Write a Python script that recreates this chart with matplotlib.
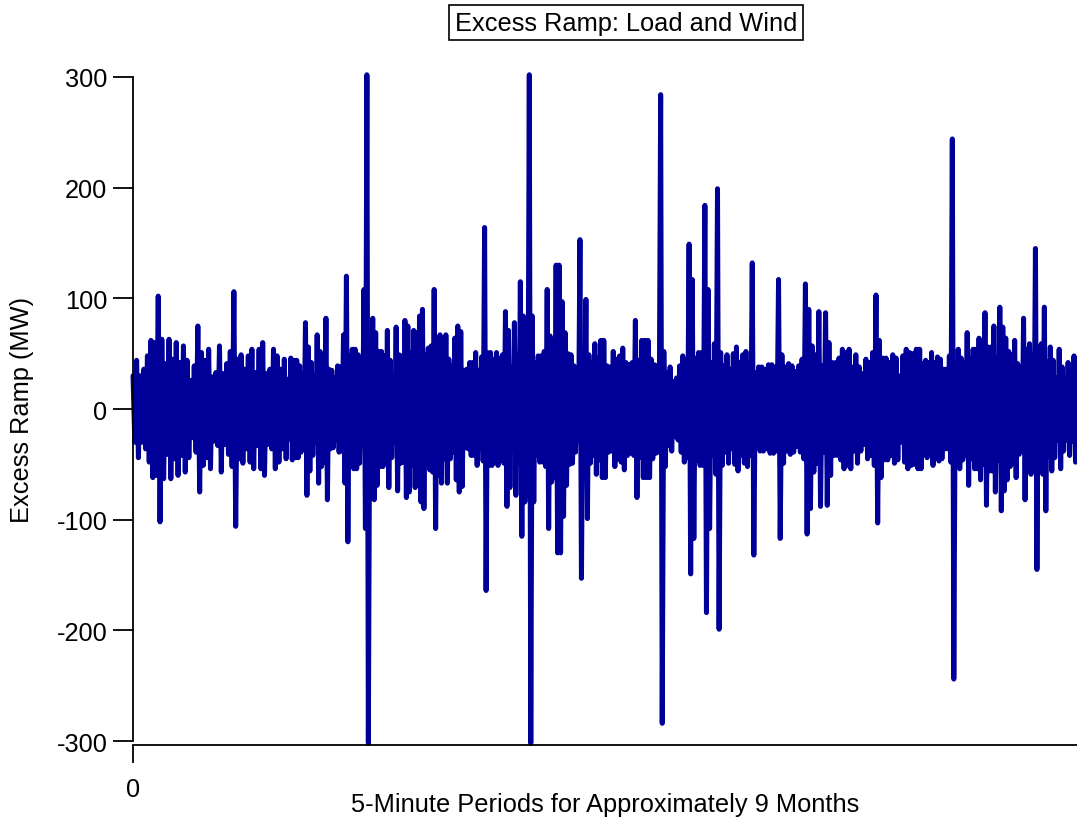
import matplotlib
matplotlib.use("Agg")
import matplotlib.pyplot as plt
import numpy as np

plt.rcParams["font.family"] = ["Liberation Sans", "DejaVu Sans"]
plt.rcParams["axes.unicode_minus"] = False

# Excess ramp envelope (MW) read along the record, six consecutive blocks.
# Each value is a swing: the ramp goes up to +value and straight back down.
block1_mw = [30, 44, 30, 36, 48, 62, 60, 102, 63, 41, 63, 45, 60, 42, 57, 44,
             26, 39, 75, 51, 44, 54, 29, 33, 57, 32, 41, 52, 106, 45, 49, 36,
             48, 54, 33, 54, 60, 32, 36, 54, 48, 36, 45]
block2_mw = [27, 46, 44, 44, 39, 32, 78, 56, 42, 30, 67, 52, 48, 82, 36, 35,
             28, 39, 38, 67, 120, 48, 54, 54, 49, 33, 108, 302, 39, 82, 69,
             52, 52, 48, 71, 44, 30, 74, 49, 48, 80, 75, 51, 71, 69, 84, 90,
             49, 55, 57, 108, 60, 67, 45]
block3_mw = [67, 45, 39, 64, 75, 70, 35, 36, 42, 42, 51, 35, 47, 164, 51, 51,
             45, 51, 46, 49, 88, 71, 38, 78, 49, 115, 84, 78, 302, 84, 42, 48,
             48, 52, 108, 66, 62, 130, 130, 97, 69, 50, 49, 39, 28, 153, 42,
             99, 49, 42, 59, 46, 62]
block4_mw = [62, 39, 38, 52, 45, 48, 55, 42, 40, 42, 80, 44, 62, 62, 62, 45,
             40, 39, 284, 52, 33, 38, 25, 28, 39, 48, 44, 149, 117, 46, 51,
             51, 184, 108, 42, 59, 199, 51, 39, 49, 36, 50, 56, 42, 49, 52,
             42, 132, 33, 38]
block5_mw = [38, 36, 40, 40, 38, 117, 49, 38, 41, 39, 34, 39, 45, 113, 90,
             57, 49, 88, 39, 87, 60, 42, 42, 46, 54, 51, 54, 38, 49, 38, 32,
             45, 42, 51, 103, 62, 46, 46, 42, 49, 46, 30, 48, 54, 51, 50, 54]
block6_mw = [54, 41, 44, 42, 51, 42, 47, 45, 36, 36, 48, 244, 32, 54, 46, 42,
             69, 45, 54, 54, 64, 50, 87, 56, 56, 75, 46, 92, 74, 64, 52, 49,
             62, 41, 38, 82, 54, 59, 49, 145, 56, 59, 92, 43, 56, 44, 28, 54,
             38, 28, 42, 29, 48]

# 5-minute period index at the block boundaries
block_edges = [0, 12800, 25850, 38900, 51950, 65000, 78000]

y_ticks = [-300, -200, -100, 0, 100, 200, 300]
x_ticks = [0]

blocks = [block1_mw, block2_mw, block3_mw, block4_mw, block5_mw, block6_mw]

periods = []
ramp = []
for (start, stop), amps in zip(zip(block_edges[:-1], block_edges[1:]), blocks):
    step = (stop - start) / len(amps)
    for k, a in enumerate(amps):
        x0 = start + k * step
        periods += [x0, x0 + step / 2]
        ramp += [a, -a]
periods = np.array(periods)
ramp = np.array(ramp)

fig = plt.figure(figsize=(10.77, 8.2), dpi=100)
ax = fig.add_axes([0.1235, 0.0951, 0.8765, 0.8098])

ax.plot(periods, ramp, color="#000099", linewidth=3.6,
        solid_joinstyle="round", solid_capstyle="round", clip_on=False)

ax.set_xlim(block_edges[0], block_edges[-1])
ax.set_ylim(-300, 300)
ax.set_yticks(y_ticks)
ax.set_xticks(x_ticks)

for side in ("top", "right"):
    ax.spines[side].set_visible(False)
ax.spines["bottom"].set_position(("outward", 3))
ax.spines["left"].set_linewidth(1.3)
ax.spines["bottom"].set_linewidth(1.3)

ax.tick_params(axis="y", length=14.5, width=1.3, pad=4, labelsize=18.3)
ax.tick_params(axis="x", length=13, width=1.3, pad=10, labelsize=18.3)

ax.set_ylabel("Excess Ramp (MW)", fontsize=18.3, va="center")
ax.yaxis.set_label_coords(-0.1176, 0.5)
ax.set_xlabel("5-Minute Periods for Approximately 9 Months", fontsize=18.3,
              va="center")
ax.xaxis.set_label_coords(0.5, -0.095)

fig.text(0.5813, 0.971, "Excess Ramp: Load and Wind", fontsize=18.3,
         ha="center", va="center",
         bbox=dict(boxstyle="square,pad=0.22", facecolor="white",
                   edgecolor="black", linewidth=1.2))

fig.savefig("out.png", dpi=100)
plt.close(fig)
